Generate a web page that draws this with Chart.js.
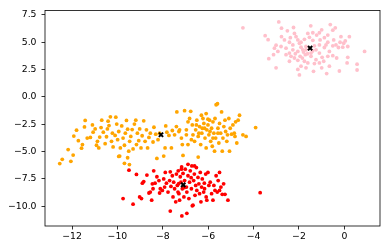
<!DOCTYPE html>
<html>
<head>
<meta charset="utf-8">
<script src="https://cdn.jsdelivr.net/npm/chart.js@4/dist/chart.umd.min.js"></script>
<style>
  html, body { margin: 0; padding: 0; background: #fff; }
  canvas { display: block; }
</style>
</head>
<body>
<canvas id="myChart" width="386" height="250"></canvas>
<script>
// cluster points, [x, y]
const pinkPoints = [
  [-4.47, 6.32], [-2.89, 6.86], [-2.24, 6.35], [-1.48, 6.50], [-0.62, 6.62], [-0.40, 6.32], [-1.00, 6.14],
  [-2.77, 6.29], [-2.51, 6.05], [-3.49, 5.60], [-3.36, 5.24], [-2.77, 5.51], [-2.38, 5.42], [-2.13, 5.51],
  [-2.05, 5.21], [-1.91, 5.00], [-1.54, 5.45], [-1.39, 5.18], [-1.22, 5.66], [-0.88, 5.42], [-0.73, 5.00],
  [-0.47, 5.21], [-0.37, 4.76], [-0.19, 5.00], [0.22, 5.51], [0.04, 5.12], [-0.07, 4.55], [-0.26, 4.52],
  [-0.51, 4.67], [-0.66, 4.16], [-0.88, 4.52], [-1.10, 4.76], [-1.32, 4.67], [-1.69, 4.61], [-1.83, 4.31],
  [-2.05, 4.16], [-2.27, 4.31], [-2.42, 4.01], [-2.57, 4.46], [-2.79, 4.61], [-3.01, 4.73], [-3.12, 3.86],
  [-3.33, 3.50], [-3.01, 2.66], [-1.98, 2.01], [-1.36, 2.34], [-0.78, 2.13], [-0.22, 2.37], [0.12, 3.11],
  [0.15, 3.62], [0.56, 2.99], [0.56, 2.46], [0.89, 4.16], [-0.34, 3.56], [-0.51, 3.77], [-0.98, 3.62],
  [-1.25, 3.41], [-1.32, 3.05], [-1.61, 3.11], [-1.76, 3.26], [-1.91, 2.81], [-2.05, 3.35], [-2.20, 3.56],
  [-2.35, 3.71], [-2.16, 3.95], [-1.95, 3.71], [-1.72, 3.86], [-1.47, 3.71], [-1.10, 3.11], [-0.91, 3.26],
  [-0.73, 3.71], [-0.66, 2.81], [-1.00, 2.66], [-1.69, 2.66], [-1.47, 4.01], [-1.69, 4.31], [-1.91, 4.55],
  [-1.25, 4.31], [-1.07, 5.21], [-1.39, 5.87], [-1.61, 5.81], [-2.20, 5.81], [-2.42, 5.00], [-2.64, 5.21],
  [-3.08, 4.46], [-2.93, 4.16], [-2.57, 3.86], [-0.73, 5.66], [-0.51, 6.11], [-0.15, 5.51], [-0.03, 4.91],
  [0.15, 4.61], [-0.81, 4.76], [-1.10, 4.01], [-1.98, 4.91], [-2.27, 4.76], [-1.10, 5.87], [-1.76, 5.27],
  [-2.42, 3.26], [-2.05, 2.51], [-1.80, 4.10], [-1.62, 3.95], [-1.40, 4.20], [-1.85, 3.55]
];

const orangePoints = [
  [-12.54, -6.11], [-12.43, -5.72], [-12.17, -4.82], [-12.05, -5.90], [-11.95, -5.33], [-11.92, -3.59],
  [-11.80, -3.05], [-11.72, -4.01], [-11.58, -4.70], [-11.54, -4.37], [-11.45, -2.75], [-11.42, -2.16],
  [-11.33, -3.77], [-11.19, -3.71], [-11.10, -2.57], [-11.07, -3.23], [-10.98, -2.93], [-10.92, -4.43],
  [-10.88, -4.07], [-10.82, -4.67], [-10.78, -3.68], [-10.72, -2.81], [-10.69, -2.13], [-10.62, -3.23],
  [-10.54, -4.28], [-10.48, -3.65], [-10.44, -2.93], [-10.41, -2.22], [-10.37, -2.63], [-10.31, -1.83],
  [-10.26, -4.07], [-10.22, -3.32], [-10.19, -4.58], [-10.10, -3.53], [-10.07, -1.86], [-10.03, -2.49],
  [-9.99, -3.92], [-9.94, -3.17], [-9.90, -5.42], [-9.87, -4.67], [-9.81, -2.66], [-9.75, -3.77],
  [-9.69, -4.43], [-9.65, -3.32], [-9.60, -2.16], [-9.55, -2.96], [-9.50, -4.97], [-9.46, -4.07],
  [-9.41, -3.62], [-9.35, -2.99], [-9.31, -4.76], [-9.25, -2.49], [-9.19, -2.13], [-9.16, -4.37],
  [-9.12, -3.32], [-9.06, -4.01], [-9.02, -2.93], [-8.96, -4.67], [-8.91, -3.56], [-8.84, -2.19],
  [-8.78, -4.07], [-8.72, -3.02], [-8.67, -4.67], [-8.61, -3.71], [-8.55, -3.32], [-8.43, -4.13],
  [-8.39, -2.78], [-8.31, -3.41], [-8.26, -5.63], [-8.21, -3.92], [-8.14, -3.32], [-9.69, -6.08],
  [-9.47, -6.20], [-9.55, -5.57], [-9.94, -5.45], [-7.90, -4.67], [-7.96, -5.42], [-7.73, -3.53],
  [-7.58, -3.08], [-7.82, -3.23], [-7.87, -2.66],
  [-7.38, -1.38], [-7.04, -1.26], [-6.77, -1.32], [-7.40, -2.72], [-7.29, -3.17], [-7.18, -3.77],
  [-7.11, -5.36], [-7.14, -4.37], [-6.96, -3.02], [-6.89, -2.28], [-6.82, -1.98], [-6.70, -2.57],
  [-6.67, -3.47], [-6.60, -4.07], [-6.55, -3.02], [-6.50, -2.13], [-6.44, -3.62], [-6.44, -5.51],
  [-6.38, -2.72], [-6.33, -4.37], [-6.28, -3.32], [-6.23, -1.98], [-6.19, -2.43], [-6.14, -3.77],
  [-6.09, -1.53], [-6.06, -3.02], [-6.01, -2.57], [-5.97, -3.47], [-5.94, -2.13], [-5.89, -4.07],
  [-5.85, -2.87], [-5.82, -4.52], [-5.79, -2.28], [-5.75, -3.32], [-5.70, -1.98], [-5.67, -3.77],
  [-5.65, -0.72], [-5.59, -0.63], [-5.57, -2.87], [-5.53, -4.22], [-5.50, -2.43], [-5.45, -3.32],
  [-5.41, -1.38], [-5.38, -4.97], [-5.35, -3.77], [-5.31, -2.72], [-5.26, -2.13], [-5.23, -3.17],
  [-5.18, -4.07], [-5.15, -3.47], [-5.09, -1.98], [-5.06, -4.97], [-5.03, -2.87], [-4.97, -3.41],
  [-4.91, -2.57], [-4.85, -3.32], [-4.79, -2.28], [-4.74, -4.22], [-4.68, -2.13], [-4.62, -1.68],
  [-4.82, -3.62], [-4.47, -3.47], [-4.33, -3.62], [-3.91, -2.81], [-5.72, -4.97], [-6.09, -4.67],
  [-6.26, -2.87], [-6.52, -2.57], [-6.74, -3.92], [-6.96, -3.47], [-6.89, -4.37], [-7.26, -3.02],
  [-7.48, -3.47], [-7.62, -4.67], [-6.16, -2.87], [-5.92, -3.17], [-6.41, -3.32], [-5.79, -3.77],
  [-5.57, -3.32], [-6.01, -2.04], [-6.30, -1.68]
];

const redPoints = [
  [-9.49, -6.71], [-9.75, -9.31], [-9.31, -9.82], [-9.16, -7.10], [-9.02, -9.16], [-8.94, -9.31],
  [-8.90, -7.90], [-8.84, -7.75], [-8.70, -7.16], [-8.61, -8.80], [-8.55, -8.71], [-8.46, -7.96],
  [-8.40, -6.77], [-8.34, -7.90], [-8.26, -7.31], [-8.17, -7.66], [-8.11, -8.41], [-8.02, -8.56],
  [-7.96, -7.51], [-7.89, -6.92], [-7.84, -7.90], [-7.77, -8.71], [-7.70, -7.66], [-7.67, -6.86],
  [-7.64, -8.20], [-7.58, -7.22], [-7.55, -9.16], [-7.52, -7.81], [-7.48, -8.41], [-7.43, -9.61],
  [-7.40, -7.07], [-7.36, -8.11], [-7.32, -6.77], [-7.29, -8.86], [-7.26, -9.46], [-7.23, -7.31],
  [-7.20, -7.81], [-7.17, -6.41], [-7.14, -8.41], [-7.11, -7.01], [-7.07, -9.16], [-7.04, -7.66],
  [-7.01, -6.62], [-6.96, -8.26], [-6.94, -8.71], [-6.89, -7.22], [-6.85, -9.31], [-6.82, -7.81],
  [-6.79, -6.77], [-6.74, -8.41], [-6.72, -6.32], [-6.67, -9.91], [-6.64, -7.66], [-6.61, -7.07],
  [-6.58, -9.01], [-6.55, -8.11], [-6.52, -6.47], [-6.50, -8.56], [-6.45, -7.37], [-6.41, -7.96],
  [-6.38, -8.86], [-6.35, -6.92], [-6.32, -9.61], [-6.29, -8.26], [-6.26, -7.51], [-6.20, -8.71],
  [-6.17, -7.90], [-6.11, -7.07], [-6.09, -9.16], [-6.06, -9.46], [-6.01, -6.92], [-5.97, -8.11],
  [-5.91, -7.81], [-5.85, -8.86], [-5.79, -9.46], [-5.75, -8.11], [-5.70, -8.56], [-5.65, -7.22],
  [-5.60, -8.71], [-5.56, -7.66], [-5.50, -6.92], [-5.44, -8.26], [-5.38, -8.92], [-5.32, -7.96],
  [-5.26, -8.92], [-5.13, -9.46], [-3.71, -8.77], [-7.67, -10.45], [-7.16, -10.90], [-6.94, -10.66],
  [-6.70, -9.97], [-8.14, -8.80], [-7.92, -8.26], [-8.49, -9.46], [-8.43, -8.41], [-7.33, -8.71],
  [-6.60, -6.32], [-6.89, -6.17], [-7.18, -6.62], [-6.16, -8.41], [-5.50, -8.56], [-7.05, -8.30],
  [-7.30, -7.95], [-6.75, -7.40]
];

const centroids = [[-1.51, 4.46], [-8.08, -3.47], [-7.10, -8.05]];

const xTicks = [-12, -10, -8, -6, -4, -2, 0];
const yTicks = [-10, -7.5, -5, -2.5, 0, 2.5, 5, 7.5];

const toXY = pts => pts.map(p => ({ x: p[0], y: p[1] }));
const minus = s => s.replace('-', '\u2212');

const tickFont = { family: 'DejaVu Sans', size: 9.3 };

// matplotlib-style box around the plot area
const frame = {
  id: 'frame',
  afterDraw(chart) {
    const { ctx, chartArea: a } = chart;
    ctx.save();
    ctx.strokeStyle = '#000';
    ctx.lineWidth = 0.8;
    ctx.strokeRect(a.left, a.top, a.right - a.left, a.bottom - a.top);
    ctx.restore();
  }
};

const dotSet = (data, color) => ({
  data: toXY(data),
  backgroundColor: color,
  borderWidth: 0,
  pointRadius: 1.9,
  pointHoverRadius: 1.9,
  order: 1
});

new Chart(document.getElementById('myChart'), {
  type: 'scatter',
  data: {
    datasets: [
      {
        data: toXY(centroids),
        pointStyle: 'crossRot',
        borderColor: '#000',
        backgroundColor: '#000',
        borderWidth: 2,
        pointRadius: 3,
        order: 0
      },
      dotSet(pinkPoints, '#ffc0cb'),
      dotSet(orangePoints, '#ffa500'),
      dotSet(redPoints, '#ff0000')
    ]
  },
  options: {
    responsive: false,
    animation: false,
    devicePixelRatio: 1,
    layout: { padding: { top: 7, right: 5, left: 0, bottom: 0 } },
    plugins: { legend: { display: false }, tooltip: { enabled: false } },
    scales: {
      x: {
        min: -13.19,
        max: 1.57,
        afterBuildTicks: s => { s.ticks = xTicks.map(v => ({ value: v })); },
        afterFit: s => { s.height = 24; },
        border: { display: false },
        grid: { display: true, drawOnChartArea: false, drawTicks: true, tickLength: 3.5, tickColor: '#000', lineWidth: 0.8 },
        ticks: { color: '#000', font: tickFont, padding: 2, maxRotation: 0, callback: v => minus(String(v)) }
      },
      y: {
        min: -11.82,
        max: 7.9,
        afterBuildTicks: s => { s.ticks = yTicks.map(v => ({ value: v })); },
        afterFit: s => { s.width = 45; },
        border: { display: false },
        grid: { display: true, drawOnChartArea: false, drawTicks: true, tickLength: 3.5, tickColor: '#000', lineWidth: 0.8 },
        ticks: { color: '#000', font: tickFont, padding: 5, callback: v => minus(v.toFixed(1)) }
      }
    }
  },
  plugins: [frame]
});
</script>
</body>
</html>
